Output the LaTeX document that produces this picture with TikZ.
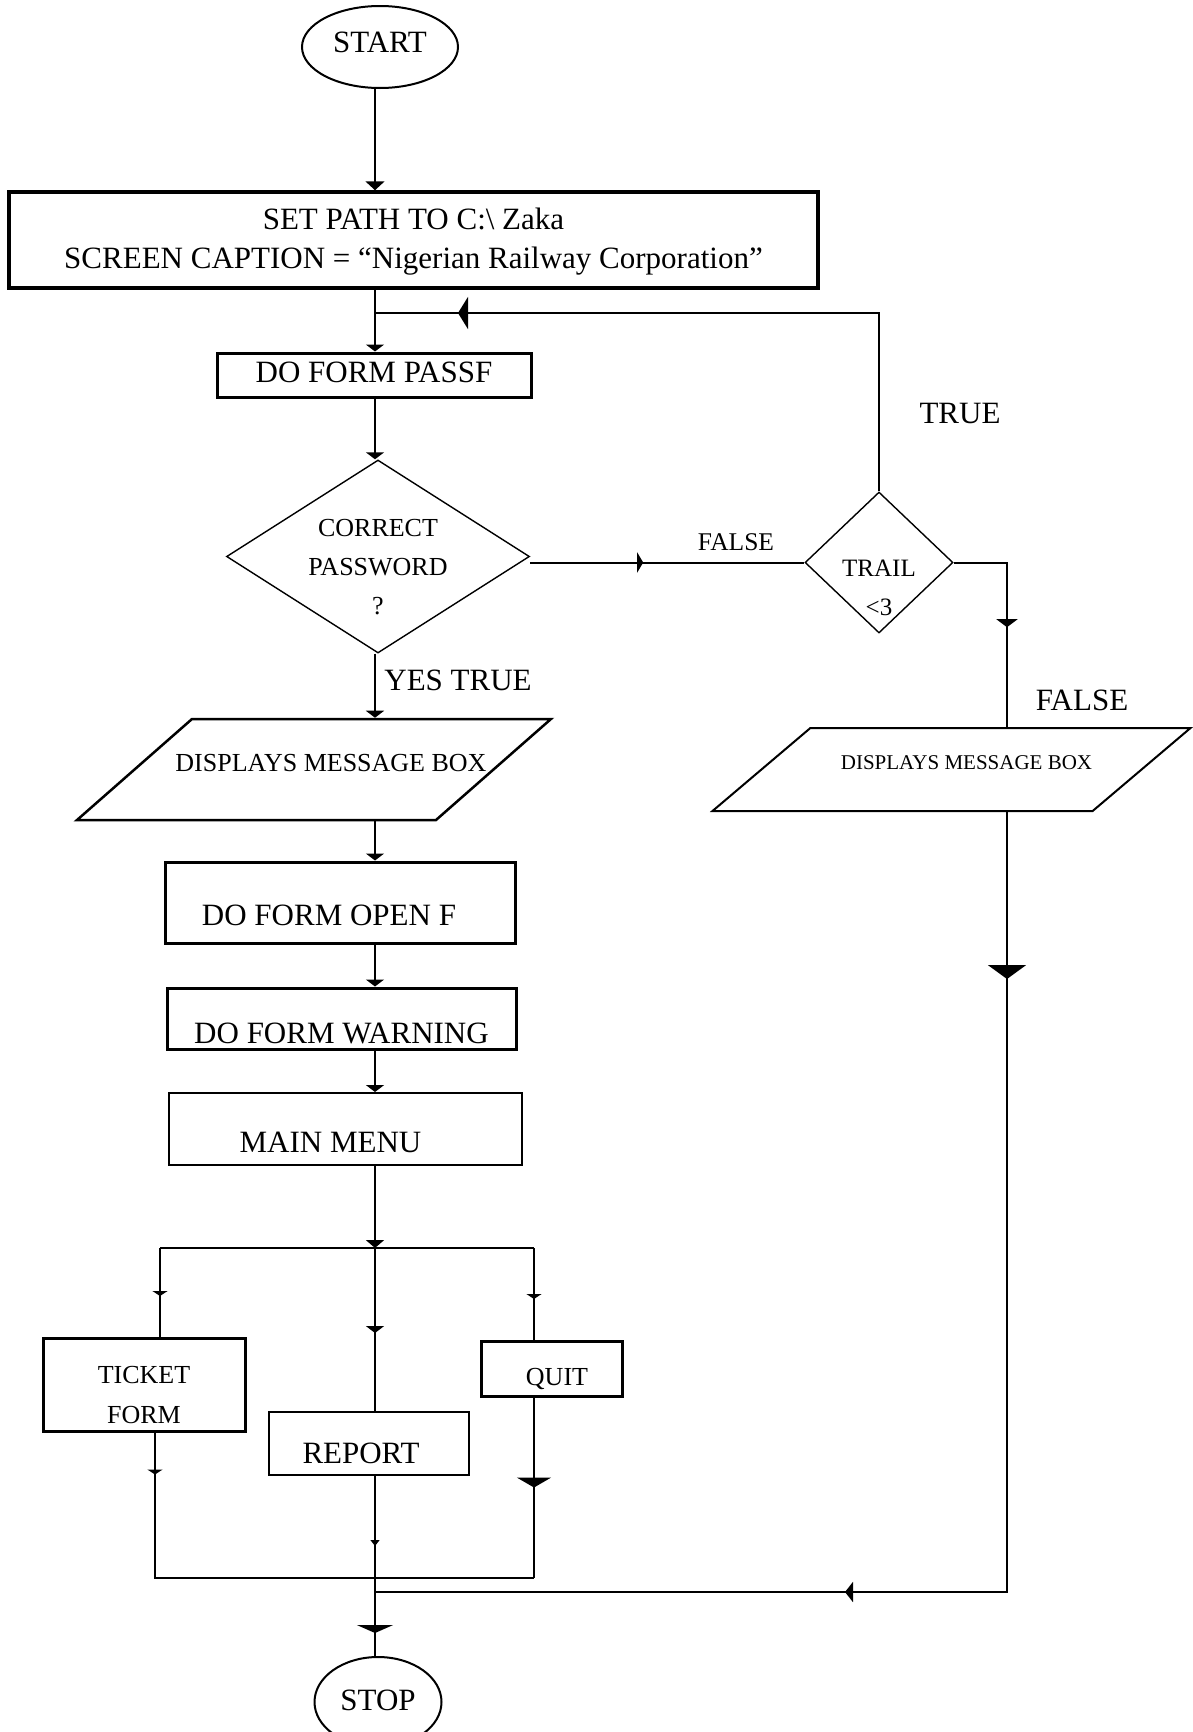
\documentclass[tikz,border=0pt]{standalone}
\usepackage{fontspec}
\setmainfont{Liberation Serif}
\usetikzlibrary{shapes.geometric,arrows.meta,decorations.markings}
\newcommand\FntA{\fontsize{31}{39}\selectfont}
\newcommand\FntB{\fontsize{26}{39}\selectfont}
\newcommand\FntC{\fontsize{21}{26}\selectfont}
\newcommand\FntT{\fontsize{25}{39}\selectfont}
\newcommand\FntF{\fontsize{25.5}{30}\selectfont}
\newcommand\FntK{\fontsize{26}{40}\selectfont}
\begin{document}
\begin{tikzpicture}[x=1pt,y=-1pt,
  conn/.style={line width=2pt},
  box/.style={draw, rectangle, inner sep=0pt, line width=3pt},
  dec/.style={draw, diamond, inner sep=0pt, line width=1.4pt},
  io/.style={draw, trapezium, trapezium stretches body, inner sep=0pt},
  term/.style={draw, ellipse, inner sep=0pt, line width=2pt},
  lbl/.style={inner sep=0pt, text depth=0pt},
  endarr/.style={-{Triangle[width=18pt,length=7pt]}},
  midarr/.style n args={3}{postaction={decorate},decoration={markings,mark=at position #1 with {\arrow{Triangle[width=#2,length=#3]}}}}
]
\useasboundingbox[fill=white] (0,0) rectangle (1192,1732);

% nodes
\node[term, minimum width=156pt, minimum height=82pt, font=\FntA, text height=10.5pt, text depth=0pt] (start) at (380,47) {START};
\node[box, line width=3.5pt, minimum width=809pt, minimum height=96pt, font=\FntA, text height=0pt, text depth=21.5pt] (setpath) at (413.5,240)
  {\begin{tabular}[t]{@{}c@{}}SET PATH TO C:\textbackslash\ Zaka\\SCREEN CAPTION = “Nigerian Railway Corporation”\end{tabular}};
\node[box, minimum width=314pt, minimum height=44pt, font=\FntA, text height=14.5pt, text depth=0pt] (passf) at (374,375) {DO FORM PASSF};
\node[dec, minimum width=303pt, minimum height=193pt, font=\FntB, text height=0pt, text depth=39.8pt] (correct) at (378,556.5)
  {\begin{tabular}[t]{@{}c@{}}CORRECT\\PASSWORD\\?\end{tabular}};
\node[dec, minimum width=148pt, minimum height=141pt, font=\FntT, text height=27.6pt, text depth=0pt] (trail) at (879,562.5)
  {\begin{tabular}[t]{@{}c@{}}TRAIL\\<3\end{tabular}};
\node[io, trapezium left angle=41.3, trapezium right angle=138.7, minimum width=470pt, minimum height=101pt, line width=2.5pt, font=\FntB, text height=52.6pt, text depth=48.4pt] (dispL) at (314,769.5) {\makebox[244pt]{\kern34pt DISPLAYS MESSAGE BOX}};
\node[io, trapezium left angle=40.3, trapezium right angle=139.7, minimum width=478pt, minimum height=83pt, line width=2pt, font=\FntC, text height=41.95pt, text depth=41.05pt] (dispR) at (951.5,769.5) {\makebox[282pt]{\kern30pt DISPLAYS MESSAGE BOX}};
\node[box, minimum width=350pt, minimum height=81pt, font=\FntA, text height=45.5pt, text depth=0pt] (openf) at (340,902.5) {DO FORM OPEN F\kern22pt};
\node[box, minimum width=349pt, minimum height=61pt, font=\FntA, text height=49.5pt, text depth=0pt] (warning) at (341.5,1018.5) {DO FORM WARNING};
\node[box, line width=2pt, minimum width=353pt, minimum height=72pt, font=\FntA, text height=46.5pt, text depth=0pt] (mainmenu) at (345.5,1129) {MAIN MENU\kern30pt};
\node[box, minimum width=202pt, minimum height=93pt, font=\FntK, text height=0pt, text depth=1.8pt] (ticket) at (144,1384.5)
  {\begin{tabular}[t]{@{}c@{}}TICKET\\FORM\end{tabular}};
\node[box, line width=2pt, minimum width=200pt, minimum height=63pt, font=\FntA, text height=39.5pt, text depth=0pt] (report) at (369,1443.5) {REPORT\kern16pt};
\node[box, minimum width=141pt, minimum height=55pt, font=\FntB, text height=34.2pt, text depth=0pt] (quit) at (551.5,1368.5) {\kern11pt QUIT};
\node[term, minimum width=127pt, minimum height=90pt, font=\FntA, text height=16.5pt, text depth=0pt] (stop) at (378,1702) {STOP};

% labels
\node[lbl, font=\FntA, text height=20.5pt] (ltrue) at (960,413) {TRUE};
\node[lbl, font=\FntF, text height=16.9pt] (lfalse1) at (736,542) {FALSE};
\node[lbl, font=\FntA, text height=20.5pt] (lfalse2) at (1082,700) {FALSE};
\node[lbl, font=\FntA, text height=20.5pt] (lyes) at (458,680) {YES TRUE};

% junction coordinates
\coordinate (loopj) at (375,313);
\coordinate (tr) at (1007,562.5);
\coordinate (barL) at (160,1248);
\coordinate (barM) at (375,1248);
\coordinate (barR) at (534,1248);
\coordinate (botL) at (155,1578);
\coordinate (botM) at (375,1578);
\coordinate (botR) at (534,1578);
\coordinate (rgtB) at (1007,1592);
\coordinate (jr) at (375,1592);

% connectors
\draw[conn,-{Triangle[width=19pt,length=9pt]}] (start.south -| loopj) -- (setpath.north -| loopj);
\draw[conn,endarr] (setpath.south -| loopj) -- (passf.north -| loopj);
\draw[conn, midarr={-83pt}{32pt}{10pt}] (trail.north) -- (trail.north |- loopj) -- (loopj);
\draw[conn,endarr] (passf.south -| loopj) -- (correct.north -| loopj);
\draw[conn, midarr={113pt}{20pt}{6pt}] (correct.east |- trail.west) -- (trail.west);
\draw[conn, midarr={118pt}{21pt}{8pt}] (trail.east) -- (tr) -- (tr |- dispR.north);
\draw[conn,endarr] (correct.south -| loopj) -- (dispL.north -| loopj);
\draw[conn,endarr] (dispL.south -| loopj) -- (openf.north -| loopj);
\draw[conn,endarr] (openf.south -| loopj) -- (warning.north -| loopj);
\draw[conn,endarr] (warning.south -| loopj) -- (mainmenu.north -| loopj);
\draw[conn,-{Triangle[width=18pt,length=8pt]}] (mainmenu.south -| loopj) -- (barM);
\draw[conn, line width=2.5pt] (barL) -- (barR);
\draw[conn, midarr={48pt}{15pt}{5pt}] (barL) -- (barL |- ticket.north);
\draw[conn, midarr={85pt}{18pt}{7pt}] (barM) -- (barM |- report.north);
\draw[conn, midarr={51pt}{15pt}{5pt}] (barR) -- (barR |- quit.north);
\draw[conn, line width=2.5pt, midarr={42pt}{15pt}{5pt}] (botL |- ticket.south) -- (botL) -- (botR);
\draw[conn, line width=2.5pt, midarr={90pt}{34pt}{10pt}] (botR |- quit.south) -- (botR);
\draw[conn, line width=1.2pt, midarr={70pt}{9pt}{6pt}] (report.south -| botM) -- (botM);
\draw[conn, line width=2.5pt, midarr={55pt}{36pt}{8pt}] (botM) -- (stop.north -| botM);
\draw[conn, line width=2.5pt, postaction={decorate}, decoration={markings,
    mark=at position 167pt with {\arrow{Triangle[width=38pt,length=14pt]}},
    mark=at position -470pt with {\arrow{Triangle[width=20pt,length=8pt]}}}]
  (dispR.south -| tr) -- (rgtB) -- (jr);
\end{tikzpicture}
\end{document}
